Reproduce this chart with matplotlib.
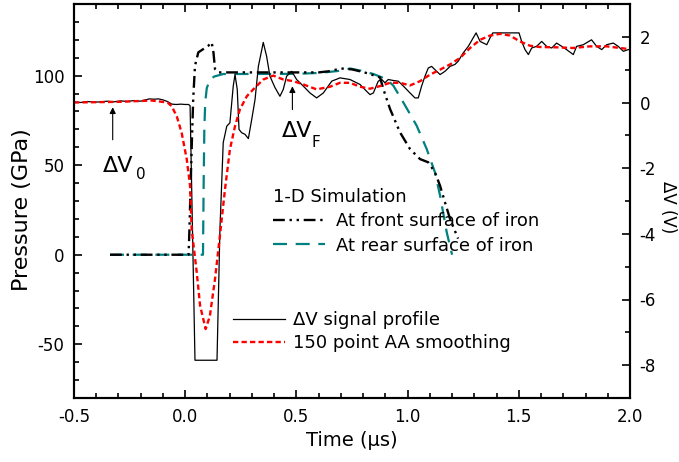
import numpy as np
import matplotlib.pyplot as plt
from matplotlib.lines import Line2D
from matplotlib.ticker import MultipleLocator, FormatStrFormatter

plt.rcParams['axes.unicode_minus'] = False

# measured delta-V signal (V) against time (us)
sig_t = [-0.5, -0.47, -0.44, -0.41, -0.38, -0.35, -0.32, -0.29, -0.26, -0.23,
         -0.2, -0.18, -0.16, -0.14, -0.12, -0.1, -0.08, -0.06, -0.04, -0.02,
         0.0, 0.015, 0.022, 0.044, 0.143, 0.156, 0.171, 0.187, 0.201, 0.216,
         0.224, 0.234, 0.242, 0.254, 0.269, 0.284, 0.299, 0.314, 0.329, 0.351,
         0.366, 0.381, 0.404, 0.426, 0.441, 0.456, 0.479, 0.501, 0.531, 0.561,
         0.591, 0.621, 0.659, 0.696, 0.741, 0.786, 0.816, 0.831, 0.846, 0.868,
         0.884, 0.898, 0.913, 0.936, 0.958, 0.981, 1.011, 1.033, 1.048, 1.063,
         1.078, 1.093, 1.108, 1.123, 1.146, 1.168, 1.191, 1.213, 1.228, 1.25,
         1.273, 1.295, 1.308, 1.326, 1.356, 1.371, 1.383, 1.501, 1.513, 1.528,
         1.543, 1.558, 1.58, 1.603, 1.625, 1.648, 1.67, 1.693, 1.715, 1.745,
         1.76, 1.79, 1.827, 1.85, 1.873, 1.895, 1.925, 1.947, 1.97, 1.992, 2.0]
sig_v = [0.02, 0.0, 0.03, 0.01, 0.02, 0.04, 0.02, 0.05, 0.03, 0.06,
         0.04, 0.08, 0.11, 0.1, 0.11, 0.08, 0.03, -0.05, -0.06, -0.05,
         -0.06, -0.06, -0.1, -7.85, -7.85, -3.9, -1.22, -0.72, -0.62, 0.5,
         0.85, 0.4, -0.82, -0.92, -0.97, -1.1, -0.52, 0.09, 1.1, 1.83,
         1.41, 0.8, 0.45, 0.19, 0.4, 0.8, 0.95, 0.7, 0.5, 0.29,
         0.14, 0.29, 0.65, 0.75, 0.7, 0.55, 0.34, 0.24, 0.29, 0.65,
         0.7, 0.6, 0.7, 0.67, 0.65, 0.5, 0.29, 0.14, 0.14, 0.5,
         0.8, 1.05, 1.1, 1.0, 0.85, 0.95, 1.1, 1.16, 1.26, 1.51,
         1.71, 1.97, 2.12, 1.86, 1.76, 1.97, 2.12, 2.12, 1.86, 1.61,
         1.46, 1.66, 1.71, 1.86, 1.71, 1.66, 1.81, 1.71, 1.61, 1.46,
         1.71, 1.76, 1.91, 1.71, 1.61, 1.76, 1.81, 1.71, 1.56, 1.61, 1.62]

# 150 point AA smoothing (V)
smo_t = [-0.5, -0.3, -0.15, -0.08, -0.061, -0.038, -0.016, 0.007, 0.022, 0.029,
         0.052, 0.067, 0.092, 0.111, 0.134, 0.156, 0.179, 0.201, 0.224, 0.246,
         0.277, 0.306, 0.351, 0.396, 0.441, 0.486, 0.531, 0.591, 0.651, 0.696,
         0.741, 0.786, 0.831, 0.876, 0.921, 0.966, 1.011, 1.056, 1.101, 1.146,
         1.191, 1.236, 1.281, 1.326, 1.371, 1.416, 1.46, 1.505, 1.55, 1.595,
         1.67, 1.745, 1.82, 1.895, 1.992, 2.0]
smo_v = [0.0, 0.02, 0.06, 0.0, -0.11, -0.42, -0.92, -1.73, -2.54, -3.86,
         -5.18, -6.19, -6.9, -6.5, -5.38, -4.06, -2.64, -1.43, -0.72, -0.21,
         0.19, 0.4, 0.7, 0.82, 0.7, 0.65, 0.55, 0.4, 0.48, 0.6,
         0.6, 0.48, 0.42, 0.5, 0.6, 0.6, 0.52, 0.65, 0.85, 1.0,
         1.16, 1.36, 1.66, 1.91, 2.04, 2.09, 2.04, 1.86, 1.73, 1.69,
         1.68, 1.66, 1.71, 1.71, 1.63, 1.63]

# 1-D simulation, front surface of iron (GPa)
front_t = [-0.338, 0.0, 0.015, 0.018, 0.029, 0.036, 0.044, 0.059, 0.081, 0.104,
           0.119, 0.127, 0.134, 0.149, 0.3, 0.6, 0.65, 0.7, 0.75, 0.8,
           0.831, 0.876, 0.891, 0.921, 0.966, 1.011, 1.056, 1.093, 1.123, 1.146,
           1.168, 1.191, 1.227]
front_p = [0, 0, 0, 10, 59, 87, 105.5, 113, 114.8, 116.7,
           118.6, 113, 103.7, 101.8, 101.8, 101.8, 102.5, 104, 103.5, 102,
           100.9, 99, 92.5, 81.4, 68.3, 59, 53.4, 51.6, 46, 38.5,
           29.3, 19.9, 9]

# 1-D simulation, rear surface of iron (GPa)
rear_t = [-0.338, 0.08, 0.083, 0.086, 0.09, 0.097, 0.11, 0.13, 0.171, 0.5,
          0.6, 0.696, 0.741, 0.8, 0.846, 0.906, 0.936, 0.981, 1.041, 1.086,
          1.123, 1.146, 1.176, 1.2]
rear_p = [0, 0, 40, 70, 85, 93, 97.5, 99.5, 100.9, 101,
          101.5, 102.7, 104, 102.5, 100.9, 98, 94.4, 85, 72, 59,
          46, 33, 12.5, 0]

fig = plt.figure(figsize=(6.79, 4.62), dpi=100)
ax = fig.add_axes([74 / 679, 64 / 462, 556 / 679, 394 / 462])
ax2 = ax.twinx()

teal = '#008080'
ax.plot(rear_t, rear_p, color=teal, lw=1.6, dashes=(6.3, 3.9))
ax.plot(front_t, front_p, color='black', lw=1.7, dashes=(5, 2, 1, 2, 1, 2))

ax2.plot(sig_t, sig_v, color='black', lw=0.9)
ax2.plot(smo_t, smo_v, color='red', lw=1.7, dashes=(2.25, 1.35))

ax.set_xlim(-0.5, 2.0)
ax.set_ylim(-80, 140)
ax2.set_ylim(-9, 3)

ax.xaxis.set_major_locator(MultipleLocator(0.5))
ax.xaxis.set_minor_locator(MultipleLocator(0.1))
ax.xaxis.set_major_formatter(FormatStrFormatter('%.1f'))
ax.yaxis.set_major_locator(MultipleLocator(50))
ax.yaxis.set_minor_locator(MultipleLocator(10))
ax2.yaxis.set_major_locator(MultipleLocator(2))
ax2.yaxis.set_minor_locator(MultipleLocator(1))

ax.tick_params(which='both', direction='in', top=True, labelsize=12, width=1.2)
ax.tick_params(which='major', length=6, pad=7)
ax.tick_params(which='minor', length=3.5)
ax2.tick_params(which='both', direction='in', labelsize=12, width=1.2)
ax2.tick_params(which='major', length=6, pad=7)
ax2.tick_params(which='minor', length=3.5)
for a in (ax, ax2):
    for s in a.spines.values():
        s.set_linewidth(1.5)

fig.text(22 / 679, 1 - 210 / 462, 'Pressure (GPa)', rotation=90,
         ha='center', va='center', fontsize=16)
fig.text(352 / 679, 1 - 440 / 462, 'Time (μs)', ha='center', va='center',
         fontsize=14)
fig.text(668 / 679, 1 - 207 / 462, 'ΔV (V)', rotation=270,
         ha='center', va='center', fontsize=12)

# annotations
ax2.annotate('', xy=(-0.326, -0.06), xytext=(-0.326, -1.22),
             arrowprops=dict(arrowstyle='-|>', color='black', lw=0.8,
                             mutation_scale=9))
ax2.annotate('', xy=(0.482, 0.58), xytext=(0.482, -0.3),
             arrowprops=dict(arrowstyle='-|>', color='black', lw=0.8,
                             mutation_scale=9))
ax2.text(-0.37, -2.13, 'ΔV', fontsize=16)
ax2.text(-0.221, -2.34, '0', fontsize=11)
ax2.text(0.435, -1.06, 'ΔV', fontsize=16)
ax2.text(0.570, -1.37, 'F', fontsize=11)

# legends
sim_handles = [Line2D([], [], color='black', lw=1.7, dashes=(5, 2, 1, 2, 1, 2)),
               Line2D([], [], color=teal, lw=1.6, dashes=(6.3, 3.9))]
leg1 = ax2.legend(sim_handles, ['At front surface of iron', 'At rear surface of iron'],
                  title='1-D Simulation', title_fontsize=13, fontsize=13,
                  alignment='left', frameon=False, loc='upper left',
                  bbox_to_anchor=(273 / 679, 1 - 188 / 462),
                  bbox_transform=fig.transFigure, borderpad=0, borderaxespad=0,
                  handlelength=2.9, handletextpad=0.6, labelspacing=0.35)
ax2.add_artist(leg1)
sig_handles = [Line2D([], [], color='black', lw=0.9),
               Line2D([], [], color='red', lw=1.7, dashes=(2.25, 1.35))]
ax2.legend(sig_handles, ['ΔV signal profile', '150 point AA smoothing'],
           fontsize=13, frameon=False, loc='upper left',
           bbox_to_anchor=(233 / 679, 1 - 311 / 462),
           bbox_transform=fig.transFigure, borderpad=0, borderaxespad=0,
           handlelength=2.9, handletextpad=0.4, labelspacing=0.3)

fig.savefig('out.png', dpi=100)
